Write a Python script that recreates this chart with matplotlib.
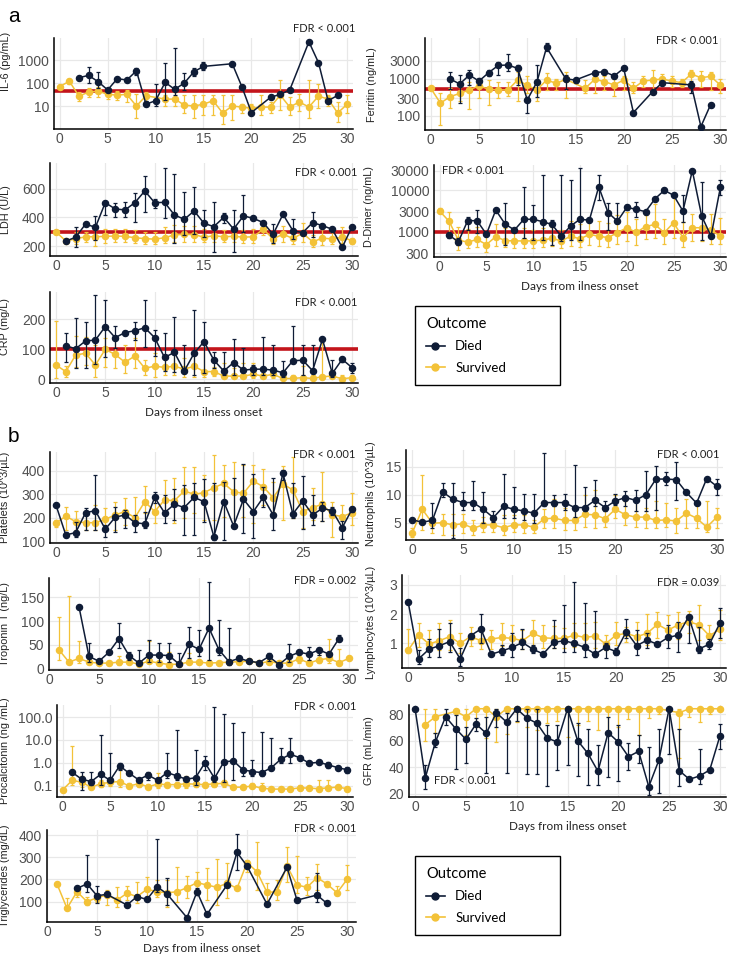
import numpy as np
import matplotlib
matplotlib.use('Agg')
from matplotlib import pyplot as plt
from matplotlib.lines import Line2D
from matplotlib.ticker import FixedLocator, NullLocator

na = np.nan
days = np.arange(31)

# ---------------- panel a ----------------
il6_died = [na, na, 170, 215, 115, 50, 155, 135, 340, 12, 17, 107, 53, 100, 310, 530, na, na, 690, 70,
            5.2, na, 24, 32, 50, na, 6200, 770, 17, 29, na]
il6_died_lo = [na, na, na, 100, 58, na, na, na, 220, 10, 10, 18, 30, 50, 200, 370] + [na] * 15
il6_died_hi = [na, na, na, 510, 310, na, na, na, 430, 17, 90, 720, 3400, 280, 430, 850] + [na] * 15
il6_surv = [70, 120, 27, 40, 45, 32, 30, 32, 10, 28, na, 20, 20, 11, 10, 12, 17, 5, 10, 9,
            8, 9, 9, 30, 9, 15, 9, 27, 20, 5, 12]
il6_surv_lo = [na, 90, 17, 25, 25, 20, 18, 15, 3, 12, na, 10, 10, 5, 3, 4, 4, 1.6, 2.5, 5,
               5, 4, 5, 7, 4, 6, 3, 8, 10, 2, 5]
il6_surv_hi = [na, 150, 40, 60, 70, 50, 45, 50, 35, 40, na, 30, 40, 30, 30, 30, 30, 30, 30, 12,
               12, 30, 15, 140, 25, 35, 130, 90, 30, 15, 30]

ferr_died = [na, na, 980, 720, 1250, 860, 1450, 2270, 2320, 1890, 270, 810, 6900, na, 980, 920, na, 1450,
             1540, 1180, 1890, 123, na, 450, 780, na, na, 680, 52, 200, na]
ferr_died_lo = [na, na, 520, 220, 680, 680, 1200, 1250, 1600, 680, 117, 330, 5500, na, 520, 750] + [na] * 11 + [400] + [na] * 3
ferr_died_hi = [na, na, 1540, 1250, 1700, 1050, 1700, 2850, 4700, 2320, 330, 2320, 9200, na, 1250, 1050] + [na] * 11 + [850] + [na] * 3
ferr_surv = [550, 220, 330, 400, 500, 640, 520, 500, 500, 920, 660, 500, 920, 750, 960, na, 550, 960, 830, 680,
             920, 550, 860, 920, 980, 860, 780, 1330, 1060, 1150, 680]
ferr_surv_lo = [na, 57, 160, 250, 150, 300, 200, 300, 350, 250, 400, 250, 500, 500, 300, na, 400, 400, 500, 350,
                500, 400, 600, 500, 700, 600, 600, 800, 600, 500, 400]
ferr_surv_hi = [na, 420, 550, 600, 800, 1000, 900, 800, 800, 1500, 1200, 800, 1400, 1000, 1500, na, 900, 1300,
                1200, 1000, 1200, 800, 1200, 1700, 1300, 1200, 1000, 1700, 1600, 1500, 1000]

ldh_died = [na, 235, 261, 354, 331, 504, 460, 453, 504, 586, 504, 506, 418, 387, 446, 359, 336, 401, 319, 411,
            394, 364, 282, 422, 308, 294, 364, 343, 317, 190, 336]
ldh_died_lo = [na, na, 196, na, 242, 420, 400, 400, 370, 440, 470, 395, 218, 277, 284, 262, 160, 360, 160, 300,
               na, na, 219, na, 250, na, 265, na, na, na, na]
ldh_died_hi = [na, na, 336, na, 410, 510, 500, 510, 570, 694, 530, 750, 705, 577, 612, 452, 512, 430, 450, 560,
               na, na, 354, na, 390, na, 440, na, na, na, na]
ldh_surv = [300, 235, 250, 265, 265, 268, 270, 268, 258, 252, 248, 258, 278, 282, 280, 262, 272, 265, 268, 262,
            265, 318, 250, 283, 253, 290, 230, 255, 250, 262, 237]
ldh_surv_lo = [na, 225, 215, 230, 200, 220, 225, 225, 220, 215, 215, 220, 225, 230, 230, 225, 230, 225, 225, 220,
               220, 280, 215, 225, 215, 230, 195, 210, 215, 220, 215]
ldh_surv_hi = [na, 245, 300, 300, 340, 320, 320, 320, 310, 300, 300, 330, 345, 340, 340, 320, 330, 310, 320, 310,
               320, 330, 300, 340, 320, 360, 280, 320, 300, 335, 255]

dd_died = [na, 830, 570, 1850, 1850, 870, 3340, 1530, 1100, 2000, 2000, 1750, 1500, 780, 1380, 2000, 1900, 12200,
           2900, 1800, 3880, 3470, 3050, 6200, 10000, 7600, 3160, 30000, 2400, 780, 11800]
dd_died_lo = [na, 700, 480, 1100, 910, na, na, 480, na, 690, 630, 630, 480, 600, 630, 630, na, 5800, 1100, 1640,
              3340, 2300, na, na, 8460, na, 1750, na, 630, na, 7700]
dd_died_hi = [na, 950, 690, 2300, 3340, na, na, 5030, na, 11800, 4420, 23500, 1900, 23000, 17800, 34000, na, 23500,
              4850, 5030, 4420, 5300, na, na, 11200, na, 7700, na, 16200, na, 17800]
dd_surv = [3160, 1800, 630, 560, 650, 490, 760, 610, 600, 600, 600, 630, 690, 600, 780, 670, 860, 780, 720, 950,
           1250, 960, 1330, 1500, 950, 1650, 720, 1250, 1250, 1100, 780]
dd_surv_lo = [2780, 910, 360, 400, 420, 330, 450, 420, 410, 400, 400, 420, 450, 410, 450, 420, 480, 450, 430, 500,
              600, 480, 650, 700, 500, 700, 420, 600, 600, 500, 500]
dd_surv_hi = [3660, 3050, 1330, 1150, 1300, 900, 1500, 1200, 1200, 1200, 1100, 1200, 1300, 1100, 1800, 1500, 2000,
              1800, 1600, 2500, 3000, 2000, 2500, 4800, 2000, 8000, 1700, 2700, 2500, 2700, 2200]

crp_died = [na, 112, 102, 128, 131, 176, 139, 156, 162, 172, 139, 73, 90, 28, 87, 126, 64, 28, 56, 31,
            34, 34, 31, 22, 62, 64, 29, 133, 20, 67, 39]
crp_died_lo = [na, 59, 37, 37, 50, 76, 103, 148, 131, 109, 78, 29, 26, na, 14, 20, 37, 14, 14, 26,
               14, 14, 14, 9, 53, 14, 20, na, 9, 59, 20]
crp_died_hi = [na, 153, 203, 192, 281, 264, 178, 161, 192, 264, 164, 153, 209, 114, 231, 192, 92, 92, 133, 103,
               48, 142, 114, 61, 178, 114, 114, na, 64, 70, 53]
crp_surv = [48, 26, 81, 87, 48, 100, 83, 57, 78, 37, 44, 40, 44, 34, 44, 26, 26, 11, 11, 11,
            17, 11, 17, 3, 3, 6, 3, 9, 11, 2, 6]
crp_surv_lo = [3, 9, 42, 48, 9, 42, 37, 20, 37, 14, 9, 14, 14, 9, 9, 9, 11, 3, 3, 3,
               3, 3, 3, 1, 1, 1, 1, 1, 3, 1, 1]
crp_surv_hi = [194, 44, 144, 142, 114, 137, 140, 114, 137, 64, 87, 76, 87, 70, 87, 131, 42, 53, 37, 53,
               53, 30, 30, 15, 15, 45, 15, 135, 30, 15, 15]

# ---------------- panel b ----------------
plt_died = [255, 128, 138, 222, 231, 152, 203, 213, 180, 175, 287, 222, 258, 244, 287, 269, 121, 269, 166, 279,
            227, 287, 213, 389, 217, 272, 213, 241, 230, 159, 237]
plt_died_lo = [na, 118, 121, 149, 149, 121, 142, 156, 142, 156, 262, 177, 192, 128, 128, 184, 107, 107, 156, 135,
               117, 248, 149, 361, 199, 152, 170, 185, 213, 110, 227]
plt_died_hi = [na, 142, 184, 241, 382, 170, 248, 234, 213, 227, 311, 297, 321, 339, 346, 365, 349, 354, 368, 428,
               386, 332, 368, 403, 346, 379, 297, 269, 248, 185, 248]
plt_surv = [178, 208, 184, 180, 180, 194, 213, 227, 201, 269, 227, 276, 273, 314, 300, 307, 328, 346, 311, 304,
            356, 332, 286, 344, 318, 227, 244, 258, 213, 206, 222]
plt_surv_lo = [161, 149, 149, 149, 149, 156, 149, 170, 177, 220, 177, 213, 177, 199, 220, 192, 192, 206, 170, 206,
               177, 255, 227, 192, 199, 156, 192, 185, 121, 156, 170]
plt_surv_hi = [192, 248, 231, 213, 255, 241, 269, 283, 287, 335, 283, 361, 368, 417, 417, 382, 466, 424, 438, 424,
               424, 406, 354, 420, 459, 276, 325, 396, 269, 255, 304]

neu_died = [5.5, 5.1, 5.4, 10.5, 9.2, 8.6, 8.6, 7.4, 5.9, 7.9, 7.4, 7.1, 6.7, 8.6, 8.6, 8.6, 7.7, 7.7, 9.0, 7.7,
            8.9, 9.5, 9.0, 10.0, 12.8, 12.8, 12.7, 10.4, 8.5, 12.9, 11.5]
neu_died_lo = [na, na, 4.0, 9.6, 2.2, 7.3, 7.3, 4.9, 5.2, 5.8, 5.8, 5.5, 4.9, 7.9, 7.9, 7.3, 6.1, 7.0, 7.9, 7.0,
               8.2, 7.9, 7.0, 7.0, 7.3, 11.7, 9.0, na, 8.2, na, 9.9]
neu_died_hi = [na, na, 8.6, 12.1, 12.1, 10.4, 12.4, 10.5, 7.0, 13.7, 11.3, 10.1, 10.1, 17.4, 9.9, 10.1, 15.3, 11.3,
               12.7, 8.8, 10.2, 10.7, 10.8, 14.2, 15.1, 14.0, 15.9, na, 8.9, na, 12.9]
neu_surv = [3.1, 7.4, 4.9, 5.0, 4.6, 4.8, 4.0, 4.6, 4.6, 4.1, 4.6, 4.6, 4.2, 5.7, 5.8, 5.4, 5.4, 6.5, 6.4, 5.7,
            7.4, 6.4, 6.0, 6.0, 5.4, 5.5, 5.3, 6.7, 5.8, 4.2, 6.0]
neu_surv_lo = [2.5, 3.7, 3.1, 2.8, 2.8, 3.1, 2.8, 3.4, 3.4, 2.8, 3.4, 3.1, 3.1, 4.0, 4.0, 3.7, 3.7, 4.3, 4.0, 4.3,
               5.8, 4.6, 4.3, 4.0, 4.0, 4.3, 3.1, 4.0, 4.0, 3.4, 4.0]
neu_surv_hi = [4.0, 13.5, 6.1, 6.5, 6.5, 6.5, 5.5, 6.1, 5.5, 6.4, 6.4, 6.4, 5.5, 7.4, 9.3, 7.6, 7.9, 9.9, 10.8, 7.3,
               9.9, 8.9, 9.3, 7.6, 8.8, 8.5, 7.6, 9.2, 8.5, 8.8, 7.6]

trop_died = [na, na, na, 130, 25, 15, 34, 63, 27, 11, 28, 28, 27, 9, 51, 40, 85, 39, 14, 21,
             15, 12, 25, 8, 25, 34, 30, 39, 30, 63, na]
trop_died_lo = [na, na, na, na, 14, na, na, 42, 18, 7, 14, 14, 14, 5, 21, 25, 18, 28, 7, na,
                na, na, 15, na, 14, na, 18, 28, na, 58, na]
trop_died_hi = [na, na, na, na, 54, na, na, 95, 35, 39, 60, 53, 53, 32, 88, 81, 183, 102, 85, na,
                na, na, 33, na, 51, na, 44, 42, na, 70, na]
trop_surv = [na, 39, 13, 21, 13, 11, 11, 13, 13, 9, 15, 11, 8, 9, 13, 13, 11, 12, 13, 14,
             15, 11, 14, 11, 11, 20, 11, 18, 21, 12, 21]
trop_surv_lo = [na, 18, 11, 11, 9, na, na, 7, na, na, 11, na, 7, na, 9, na, na, na, na, na,
                na, na, na, na, na, 11, na, 12, 12, 7, na]
trop_surv_hi = [na, 109, 153, 58, 19, na, na, 25, na, na, 58, na, 35, na, 32, na, na, na, na, na,
                na, na, na, na, na, 28, na, 28, 61, 40, na]

lym_died = [2.40, 0.47, 0.80, 0.92, 1.06, 0.47, 1.26, 1.49, 0.63, 0.74, 0.86, 1.03, 0.80, 0.64, 1.03, 1.09, 1.0,
            0.86, 0.63, 0.86, 0.72, 1.40, 0.92, 1.11, 0.97, 1.20, 1.28, 1.91, 0.81, 0.97, 1.68]
lym_died_lo = [na, 0.30, 0.55, 0.55, 0.72, 0.23, na, 1.0, na, 0.60, 0.55, 0.80, 0.66, na, 0.83, 0.72, 0.72, 0.55,
               0.55, 0.49, 0.60, 1.17, 0.60, 0.83, na, 0.83, 0.72, 1.0, 0.68, 0.80, 1.17]
lym_died_hi = [na, 0.77, 1.14, 1.49, 1.70, 0.83, na, 1.99, na, 0.94, 1.34, 1.49, 0.94, na, 1.80, 2.31, 3.1, 2.39,
               2.11, 1.0, 0.83, 1.82, 1.45, 1.36, na, 1.63, 1.74, 1.93, 1.55, 1.14, 2.19]
lym_surv = [0.77, 1.28, 0.98, 1.09, 1.23, 1.0, 1.23, 1.09, 1.15, 1.20, 1.17, 1.09, 1.34, 1.19, 1.17, 1.17, 1.28,
            1.20, 1.25, 0.98, 1.28, 1.34, 1.23, 1.34, 1.65, 1.45, 1.63, 1.74, 1.63, 1.26, 1.48]
lym_surv_lo = [0.66, 0.89, 0.77, 0.77, 0.77, 0.66, 0.91, 0.80, 0.80, 0.91, 0.83, 0.80, 0.89, 0.83, 0.83, 0.83, 0.89,
               0.83, 0.83, 0.77, 0.94, 1.06, 0.94, 0.94, 1.17, 1.11, 1.14, 1.34, 1.11, 1.06, 1.11]
lym_surv_hi = [1.49, 1.68, 1.45, 1.70, 1.80, 1.36, 1.55, 1.45, 1.45, 1.68, 1.63, 1.45, 1.80, 1.63, 1.59, 1.51, 1.68,
               1.68, 1.74, 1.28, 1.74, 1.57, 1.74, 2.0, 2.08, 1.97, 2.08, 2.11, 2.31, 1.63, 2.14]

pct_died = [na, 0.38, 0.19, 0.15, 0.31, 0.17, 0.73, 0.35, 0.18, 0.29, 0.17, 0.37, 0.27, 0.19, 0.22, 1.0, 0.21, 1.1,
            1.2, 0.49, 0.41, 0.37, 0.61, 1.43, 2.35, 1.65, 0.95, 1.05, 0.80, 0.61, 0.49]
pct_died_lo = [na, na, 0.065, 0.11, 0.11, 0.15, 0.48, na, na, 0.18, na, 0.21, 0.18, na, 0.11, 0.48, 0.15, 0.15,
               0.18, 0.26, 0.25, 0.25, 0.48, 0.95, 1.0, na, na, na, 0.57, na, 0.37]
pct_died_hi = [na, na, 0.41, 0.41, 16.5, 2.6, 0.95, na, na, 0.41, na, 2.8, 27.4, na, 3.6, 1.9, 270, 137,
               57, 23, 1.3, 23, 11.8, 4.3, 11.8, na, na, na, 1.1, na, 0.68]
pct_surv = [0.065, 0.17, 0.14, 0.085, 0.12, 0.14, 0.15, 0.096, 0.12, 0.09, 0.115, 0.11, 0.11, 0.12, 0.115, 0.11,
            0.12, 0.125, 0.085, 0.085, 0.096, 0.077, 0.07, 0.07, 0.07, 0.08, 0.077, 0.073, 0.08, 0.085, 0.073]
pct_surv_lo = [na, 0.11, 0.09, 0.07, 0.09, 0.1, 0.09, 0.08, 0.09, 0.075, 0.077, 0.085, 0.085, 0.077, 0.09, 0.085,
               0.09, 0.09, 0.07, 0.07, 0.075, 0.065, 0.06, 0.06, 0.06, 0.065, 0.065, 0.06, 0.065, 0.07, 0.06]
pct_surv_hi = [na, 5.5, 0.25, 0.11, 0.18, 0.2, 0.52, 0.13, 0.16, 0.12, 0.35, 0.15, 0.15, 0.25, 0.15, 0.14,
               0.16, 0.18, 0.11, 0.11, 0.13, 0.13, 0.09, 0.09, 0.09, 0.11, 0.1, 0.17, 0.18, 0.11, 0.09]

gfr_died = [84, 32, 59, 78, 69, 61, 72.5, 65.5, 81, 74, 84, 77, 73, 62, 59, 84, 60, 50.5, 37, 66,
            59, 48, 52, 25.5, 45.5, 84, 37.5, 31, 33.5, 38, 63.5]
gfr_died_lo = [na, 24, 55.5, 72, 39, 43, 67, 35.5, 70, 35.5, 75, 35, 35, 26, 38, 42, 33.5, 27, 27, 33,
               30, 38, 43.5, 19, 21, 50, 26, na, 27.5, na, 53.5]
gfr_died_hi = [na, 42, 65.5, 84, 79, 70.5, 77, 78, 84, 80.5, 84, 84, 84, 72, 72, 84, 73, 69, 57, 78,
               72, 58, 64, 55, 69, 84, 69, na, 53.5, na, 72.5]
gfr_surv = [na, 72, 78, na, 82, 78, 84, 84, 78, 84, 84, 84, 84, 84, 84, 84, 84, 84, 84, 84,
            84, 84, 84, 84, 84, na, 81, 84, 84, 84, 84]
gfr_surv_lo = [na, 60, 66, na, 68, 64, 70, 62, 59, 65, 74, 70, 68, 73, 75, 63, 72, 75, 68, 64,
               70, 76, 64, 77, 80, na, 47, 78, 74, 80, na]
gfr_surv_hi = [na, 84, 84, na, 84, 84] + [na] * 2 + [84] + [na] * 17 + [84] + [na] * 4

tg_died = [na, na, na, 160, 180, 127, 133, na, 85, 123, 110, 168, 135, na, 28, 145, 43, na, 175, 322,
           261, na, 89, na, 255, 107, na, 130, 92, na, na]
tg_died_lo = [na, na, na, na, 145, 95, na, na, 78, na, na, 145, 85, na, na, 130, na, na, na, 243,
              na, na, na, na, na, na, na, 100, na, na, na]
tg_died_hi = [na, na, na, na, 311, 171, na, na, 100, na, na, 381, 205, na, na, 163, na, na, na, 405,
              na, na, na, na, na, na, na, 228, na, na, na]
tg_surv = [na, 180, 70, 145, 100, 118, 130, 107, 138, 123, 156, 145, 140, 145, 163, 186, 175, 165, 183, 160,
           276, 235, 142, 145, 261, 175, 165, 208, 180, 140, 200]
tg_surv_lo = [na, na, 62, 123, 85, 100, 85, 78, 107, 92, 115, 123, 78, 100, 115, 138, 107, 85, 115, na,
              235, 153, 92, 107, 190, 138, 130, 153, 168, 130, 153]
tg_surv_hi = [na, na, 118, 160, 123, 138, 153, 168, 171, 190, 210, 198, 198, 258, 216, 235, 250, 291, 273, na,
              288, 371, 183, 198, 348, 306, 210, 270, 190, 172, 266]

dark = '#0f1c36'
gold = '#f3c238'
red = '#c3141b'

W, H = 732, 959
fig = plt.figure(figsize=(W / 100, H / 100), dpi=100)
plt.rcParams['font.family'] = ['Liberation Sans', 'DejaVu Sans']


def box(x0, y0, x1, y1):
    return fig.add_axes([x0 / W, 1 - y1 / H, (x1 - x0) / W, (y1 - y0) / H])


def draw(ax, vals, lo, hi, color, z):
    v = np.array(vals, float)
    l = np.array(lo, float)
    h = np.array(hi, float)
    m = ~np.isnan(v)
    l = np.where(np.isnan(l), v, l)
    h = np.where(np.isnan(h), v, h)
    e = m & ((l < v) | (h > v))
    ax.errorbar(days[e], v[e], yerr=[v[e] - l[e], h[e] - v[e]], fmt='none', ecolor=color,
                elinewidth=0.9, capsize=1.4, capthick=0.9, zorder=z)
    ax.plot(days[m], v[m], '-o', color=color, lw=1.1, ms=4.4, zorder=z + 0.5)


panels = [
    dict(pos=(54, 38, 353, 129), d=(il6_died, il6_died_lo, il6_died_hi), s=(il6_surv, il6_surv_lo, il6_surv_hi),
         ylab='IL-6 (pg/mL)', log=True, ylim=(1, 9100), yt=[10, 100, 1000], ytl=['10', '100', '1000'],
         ref=43, fdr='FDR < 0.001', fxy=(355, 28, 'right'), lab=(11, 61)),
    dict(pos=(425, 38, 726, 130), d=(ferr_died, ferr_died_lo, ferr_died_hi), s=(ferr_surv, ferr_surv_lo, ferr_surv_hi),
         ylab='Ferritin (ng/mL)', log=True, ylim=(42, 12300), yt=[100, 300, 1000, 3000],
         ytl=['100', '300', '1000', '3000'], ref=525, fdr='FDR < 0.001', fxy=(718, 40, 'right'), lab=(377, 85)),
    dict(pos=(50, 163, 358, 256), d=(ldh_died, ldh_died_lo, ldh_died_hi), s=(ldh_surv, ldh_surv_lo, ldh_surv_hi),
         ylab='LDH (U/L)', log=False, ylim=(130, 782), yt=[200, 400, 600], ytl=['200', '400', '600'],
         ref=300, fdr='FDR < 0.001', fxy=(357, 173, 'right'), lab=(11, 210)),
    dict(pos=(434, 165, 726, 257), d=(dd_died, dd_died_lo, dd_died_hi), s=(dd_surv, dd_surv_lo, dd_surv_hi),
         ylab='D-Dimer (ng/mL)', log=True, ylim=(245, 41000), yt=[300, 1000, 3000, 10000, 30000],
         ytl=['300', '1000', '3000', '10000', '30000'], ref=1000, fdr='FDR < 0.001', fxy=(442, 171, 'left'),
         lab=(374, 207), xlab=287),
    dict(pos=(50, 292, 358, 383), d=(crp_died, crp_died_lo, crp_died_hi), s=(crp_surv, crp_surv_lo, crp_surv_hi),
         ylab='CRP (mg/L)', log=False, ylim=(-12, 291), yt=[0, 100, 200], ytl=['0', '100', '200'],
         ref=100, fdr='FDR < 0.001', fxy=(357, 303, 'right'), lab=(10, 327), xlab=413),
    dict(pos=(50, 452, 358, 543), d=(plt_died, plt_died_lo, plt_died_hi), s=(plt_surv, plt_surv_lo, plt_surv_hi),
         ylab='Platelets (10^3/µL)', log=False, ylim=(94, 479), yt=[100, 200, 300, 400],
         ytl=['100', '200', '300', '400'], fdr='FDR < 0.001', fxy=(355, 455, 'right'), lab=(10, 497)),
    dict(pos=(406, 450, 723, 540), d=(neu_died, neu_died_lo, neu_died_hi), s=(neu_surv, neu_surv_lo, neu_surv_hi),
         ylab='Neutrophils (10^3/µL)', log=False, ylim=(1.9, 18), yt=[5, 10, 15], ytl=['5', '10', '15'],
         fdr='FDR < 0.001', fxy=(719, 455, 'right'), lab=(376, 494)),
    dict(pos=(49, 578, 358, 670), d=(trop_died, trop_died_lo, trop_died_hi), s=(trop_surv, trop_surv_lo, trop_surv_hi),
         ylab='Troponin T (ng/L)', log=False, ylim=(-3.6, 191), yt=[0, 50, 100, 150],
         ytl=['0', '50', '100', '150'], fdr='FDR = 0.002', fxy=(356, 580, 'right'), lab=(10, 624), x0=0.35),
    dict(pos=(402, 575, 726, 668), d=(lym_died, lym_died_lo, lym_died_hi), s=(lym_surv, lym_surv_lo, lym_surv_hi),
         ylab='Lymphocytes (10^3/µL)', log=False, ylim=(0.16, 3.33), yt=[1, 2, 3], ytl=['1', '2', '3'],
         fdr='FDR = 0.039', fxy=(719, 583, 'right'), lab=(376, 622)),
    dict(pos=(57, 705, 353, 797), d=(pct_died, pct_died_lo, pct_died_hi), s=(pct_surv, pct_surv_lo, pct_surv_hi),
         ylab='Procalcitonin (ng /mL)', log=True, ylim=(0.0316, 337), yt=[0.1, 1, 10, 100],
         ytl=['0.1', '1.0', '10.0', '100.0'], fdr='FDR < 0.001', fxy=(356, 707, 'right'), lab=(10, 751)),
    dict(pos=(409, 705, 726, 797), d=(gfr_died, gfr_died_lo, gfr_died_hi), s=(gfr_surv, gfr_surv_lo, gfr_surv_hi),
         ylab='GFR (mL/min)', log=False, ylim=(17.7, 86.8), yt=[20, 40, 60, 80], ytl=['20', '40', '60', '80'],
         fdr='FDR < 0.001', fxy=(434, 780, 'left'), lab=(374, 751), xlab=826),
    dict(pos=(47, 830, 356, 922), d=(tg_died, tg_died_lo, tg_died_hi), s=(tg_surv, tg_surv_lo, tg_surv_hi),
         ylab='Triglycerides (mg/dL)', log=False, ylim=(8.5, 423), yt=[100, 200, 300, 400],
         ytl=['100', '200', '300', '400'], fdr='FDR < 0.001', fxy=(356, 828, 'right'), lab=(10, 876),
         x0=0.35, xlab=949),
]

for p in panels:
    x0, y0, x1, y1 = p['pos']
    ax = box(x0, y0, x1, y1)
    if p['log']:
        ax.set_yscale('log')
    ax.set_xlim(p.get('x0', -0.6), 30.6 if 'x0' not in p else 30.9)
    ax.set_ylim(*p['ylim'])
    ax.set_xticks(range(0, 31, 5))
    ax.yaxis.set_major_locator(FixedLocator(p['yt']))
    ax.yaxis.set_minor_locator(NullLocator())
    ax.set_yticklabels(p['ytl'])
    ax.grid(True, color='#e8e8e8', lw=0.9)
    ax.set_axisbelow(True)
    for s in ['top', 'right']:
        ax.spines[s].set_visible(False)
    for s in ['left', 'bottom']:
        ax.spines[s].set_linewidth(1.1)
        ax.spines[s].set_color('black')
    ax.tick_params(length=0, labelsize=10, labelcolor='#505050', pad=2.5)
    ax.tick_params(axis='y', pad=3.5)
    if 'ref' in p:
        ax.axhline(p['ref'], color=red, lw=2.6, zorder=1.5)
    draw(ax, *p['s'], gold, 2)
    draw(ax, *p['d'], dark, 3)
    lx, ly = p['lab']
    ax.set_ylabel(p['ylab'], fontsize=7.8, color='#222222')
    ax.yaxis.set_label_coords((lx - x0) / (x1 - x0), (y1 - ly) / (y1 - y0))
    fx, fy, ha = p['fxy']
    fig.text(fx / W, 1 - fy / H, p['fdr'], ha=ha, va='center', fontsize=8, family='Lato', color='#222222')
    if 'xlab' in p:
        fig.text((x0 + x1) / 2 / W, 1 - p['xlab'] / H, 'Days from ilness onset', ha='center', va='center',
                 fontsize=8.5, family='Lato', color='#222222')

fig.text(8 / W, 1 - 16 / H, 'a', fontsize=15, va='center', ha='left')
fig.text(8 / W, 1 - 437 / H, 'b', fontsize=15, va='center', ha='left')

handles = [Line2D([], [], color=dark, marker='o', ms=5, lw=1.2),
           Line2D([], [], color=gold, marker='o', ms=5, lw=1.2)]
for top in (306, 856):
    leg = fig.legend(handles, ['Died', 'Survived'], title='Outcome', loc='upper left',
                     bbox_to_anchor=(415 / W, 1 - top / H - 0.0001, 145 / W, 0.0001), mode='expand',
                     frameon=True, fancybox=False, edgecolor='black', framealpha=1,
                     prop={'family': 'Lato', 'size': 9.5}, title_fontproperties={'family': 'Lato', 'size': 10.5},
                     handlelength=1.4, handletextpad=0.8, labelspacing=0.7, borderpad=0.85,
                     alignment='left', borderaxespad=0)
    leg.get_frame().set_linewidth(1.0)

plt.savefig('out.png', dpi=100)
